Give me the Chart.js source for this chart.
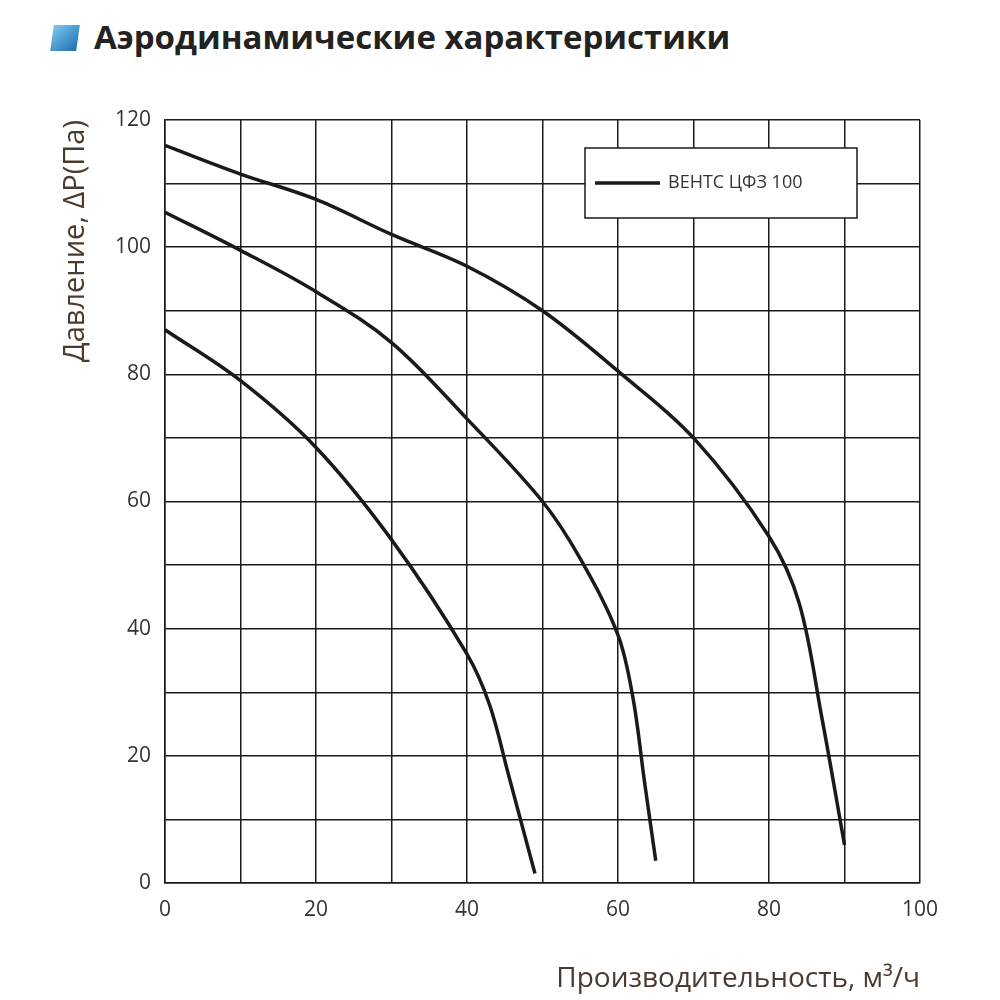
<!DOCTYPE html>
<html>
<head>
<meta charset="utf-8">
<script src="https://cdn.jsdelivr.net/npm/chart.js@4.4.0/dist/chart.umd.min.js"></script>
<style>
  body { margin: 0; background: #fff; }
  #wrap { position: relative; width: 1000px; height: 1000px; }
  #title { position: absolute; left: 52px; top: 14px; font-family: "Open Sans", sans-serif; font-weight: bold; font-size: 33px; color: #222; }
  #title span { display: inline-block; width: 26px; height: 26px; background: linear-gradient(135deg, #7cc8ee, #1e6fb0); margin-right: 16px; vertical-align: -2px; transform: skewX(-8deg); }
  canvas { position: absolute; left: 0; top: 0; }
</style>
</head>
<body>
<div id="wrap">
  <div id="title"><span></span>Аэродинамические характеристики</div>
  <canvas id="fanChart" width="1000" height="1000"></canvas>
</div>
<script>
const flowHigh = [0, 10, 20, 30, 40, 50, 60, 70, 80, 84, 87, 90];
const pressHigh = [116, 111.5, 107.5, 102, 97, 90, 80.5, 70, 54.5, 44, 26, 6];
const flowMid = [0, 10, 20, 30, 40, 50, 55, 60, 62, 63.5, 65];
const pressMid = [105.5, 99.5, 93, 85, 73, 60, 51, 39, 29, 16, 3.5];
const flowLow = [0, 10, 20, 30, 40, 43, 45.5, 49];
const pressLow = [87, 79, 68.5, 54, 36, 28, 17, 1.5];
const legendLabel = "ВЕНТС ЦФЗ 100";

function toPoints(xs, ys) {
  return xs.map((x, i) => ({ x: x, y: ys[i] }));
}

const lineStyle = {
  showLine: true,
  borderColor: "#1a1a1a",
  borderWidth: 3.5,
  pointRadius: 0,
  tension: 0.35,
  fill: false
};

// legend box in the upper right of the plot area
const legendBox = {
  id: "legendBox",
  afterDraw(chart) {
    const c = chart.ctx;
    const x = 585, y = 148, w = 272, h = 70;
    c.save();
    c.fillStyle = "#fff";
    c.fillRect(x, y, w, h);
    c.strokeStyle = "#1a1a1a";
    c.lineWidth = 1.5;
    c.strokeRect(x, y, w, h);
    c.beginPath();
    c.lineWidth = 3.5;
    c.moveTo(x + 10, y + h / 2);
    c.lineTo(x + 75, y + h / 2);
    c.stroke();
    c.fillStyle = "#333";
    c.font = "18px 'Open Sans'";
    c.textBaseline = "middle";
    c.fillText(legendLabel, x + 83, y + h / 2);
    c.restore();
  }
};

new Chart(document.getElementById("fanChart"), {
  type: "scatter",
  data: {
    datasets: [
      { label: legendLabel, data: toPoints(flowHigh, pressHigh), ...lineStyle },
      { label: "mid", data: toPoints(flowMid, pressMid), ...lineStyle },
      { label: "low", data: toPoints(flowLow, pressLow), ...lineStyle }
    ]
  },
  options: {
    responsive: false,
    animation: false,
    layout: { padding: { left: 54, right: 80, top: 120, bottom: 0 } },
    plugins: { legend: { display: false }, tooltip: { enabled: false } },
    scales: {
      x: {
        min: 0, max: 100,
        afterFit: s => { s.height = 117; },
        grid: { color: "#1a1a1a", lineWidth: 1.5, drawTicks: false },
        border: { color: "#1a1a1a", width: 1.5 },
        ticks: {
          stepSize: 10, padding: 14, color: "#333",
          font: { family: "Open Sans", size: 21 },
          callback: v => (v % 20 === 0 ? v : "")
        },
        title: { display: true, align: "end", text: "Производительность, м³/ч", color: "#4a3a30", font: { family: "Open Sans", size: 28 }, padding: { top: 0 } }
      },
      y: {
        min: 0, max: 120,
        afterFit: s => { s.width = 111; },
        grid: { color: "#1a1a1a", lineWidth: 1.5, drawTicks: false },
        border: { color: "#1a1a1a", width: 1.5 },
        ticks: {
          stepSize: 10, padding: 14, color: "#333",
          font: { family: "Open Sans", size: 21 },
          callback: v => (v % 20 === 0 ? v : "")
        },
        title: { display: true, align: "end", text: "Давление, ΔP(Па)", color: "#4a3a30", font: { family: "Open Sans", size: 29 } }
      }
    }
  },
  plugins: [legendBox]
});
</script>
</body>
</html>
